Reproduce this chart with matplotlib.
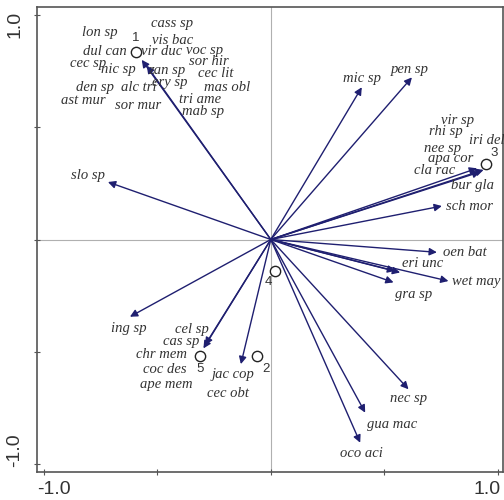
import matplotlib
matplotlib.use("Agg")
import matplotlib.pyplot as plt

# species arrow tips (axis 1, axis 2)
arrow_x = [-0.569, -0.547, -0.718, 0.401, 0.622, 0.909, 0.938, 0.923, 0.754, 0.732,
           0.548, 0.570, 0.783, 0.541, 0.607, 0.416, 0.394, -0.132, -0.297, -0.290, -0.621]
arrow_y = [0.800, 0.774, 0.256, 0.678, 0.722, 0.317, 0.310, 0.301, 0.149, -0.057,
           -0.140, -0.147, -0.185, -0.191, -0.667, -0.771, -0.905, -0.555, -0.485, -0.470, -0.344]

# species labels and where they sit
species = ["cass sp", "lon sp", "vis bac", "dul can", "vir duc", "voc sp", "sor hir",
           "cec sp", "nic sp", "zan sp", "cec lit", "den sp", "alc tri", "ery sp",
           "mas obl", "ast mur", "sor mur", "tri ame", "mab sp", "slo sp", "mic sp",
           "pen sp", "vir sp", "rhi sp", "iri del", "nee sp", "apa cor", "cla rac",
           "bur gla", "sch mor", "oen bat", "eri unc", "wet may", "gra sp", "ing sp",
           "cel sp", "cas sp", "chr mem", "coc des", "ape mem", "jac cop", "cec obt",
           "nec sp", "gua mac", "oco aci"]
label_x = [-0.437, -0.753, -0.431, -0.731, -0.481, -0.290, -0.272,
           -0.805, -0.672, -0.459, -0.241, -0.775, -0.584, -0.444,
           -0.194, -0.827, -0.584, -0.312, -0.297, -0.806, 0.401,
           0.614, 0.825, 0.772, 0.950, 0.759, 0.794, 0.720,
           0.891, 0.876, 0.854, 0.670, 0.906, 0.629, -0.624,
           -0.348, -0.393, -0.481, -0.466, -0.459, -0.168, -0.187,
           0.607, 0.536, 0.401]
label_y = [0.960, 0.923, 0.886, 0.837, 0.837, 0.841, 0.792,
           0.782, 0.755, 0.752, 0.737, 0.678, 0.678, 0.698,
           0.678, 0.621, 0.595, 0.624, 0.569, 0.287, 0.718,
           0.759, 0.528, 0.480, 0.443, 0.406, 0.359, 0.306,
           0.240, 0.149, -0.059, -0.106, -0.185, -0.244, -0.396,
           -0.403, -0.455, -0.510, -0.578, -0.644, -0.600, -0.685,
           -0.710, -0.823, -0.955]

# sample sites
site_names = ["1", "2", "3", "4", "5"]
site_x = [-0.594, -0.059, 0.948, 0.019, -0.312]
site_y = [0.837, -0.519, 0.335, -0.140, -0.519]
site_offsets = [(0, 10), (6, -9), (6, 8), (-5, -8), (0, -9)]

navy = "#1f1f70"
frame = "#555555"
txt = "#333333"

fig = plt.figure(figsize=(5.04, 5.0), dpi=100)
ax = fig.add_axes([0.0728, 0.0566, 0.925, 0.9288])
ax.set_xlim(-1.032, 1.023)
ax.set_ylim(-1.034, 1.034)

ax.axhline(0, color="#b0b0b0", lw=0.8, zorder=0)
ax.axvline(0, color="#b0b0b0", lw=0.8, zorder=0)

for x, y in zip(arrow_x, arrow_y):
    ax.annotate("", xy=(x, y), xytext=(0, 0),
                arrowprops=dict(arrowstyle="-|>", color=navy, lw=1.0,
                                mutation_scale=11, shrinkA=0, shrinkB=0))

for name, x, y in zip(species, label_x, label_y):
    ax.text(x, y, name, ha="center", va="center", fontsize=10.5, color=txt,
            family="Liberation Serif", style="italic", clip_on=False)

ax.scatter(site_x, site_y, s=55, facecolor="white", edgecolor="#222222",
           linewidth=1.0, zorder=5)
for name, x, y, off in zip(site_names, site_x, site_y, site_offsets):
    ax.annotate(name, (x, y), xytext=off, textcoords="offset points",
                ha="center", va="center", fontsize=9.5, color=txt,
                family="Liberation Sans")

for s in ax.spines.values():
    s.set_color(frame)
    s.set_linewidth(1.2)
ticks = [-1.0, -0.5, 0.0, 0.5, 1.0]
ax.set_xticks(ticks)
ax.set_yticks(ticks)
ax.tick_params(direction="inout", length=5, color=frame,
               labelbottom=False, labelleft=False)

fig.text(37 / 504, 1 - 490 / 500, "-1.0", ha="left", va="center",
         fontsize=14, color=txt, family="Liberation Sans")
fig.text(501 / 504, 1 - 490 / 500, "1.0", ha="right", va="center",
         fontsize=14, color=txt, family="Liberation Sans")
fig.text(15 / 504, 1 - 11 / 500, "1.0", ha="center", va="top", rotation=90,
         fontsize=14, color=txt, family="Liberation Sans")
fig.text(15 / 504, 1 - 467 / 500, "-1.0", ha="center", va="bottom", rotation=90,
         fontsize=14, color=txt, family="Liberation Sans")

fig.savefig("out.png", dpi=100)
